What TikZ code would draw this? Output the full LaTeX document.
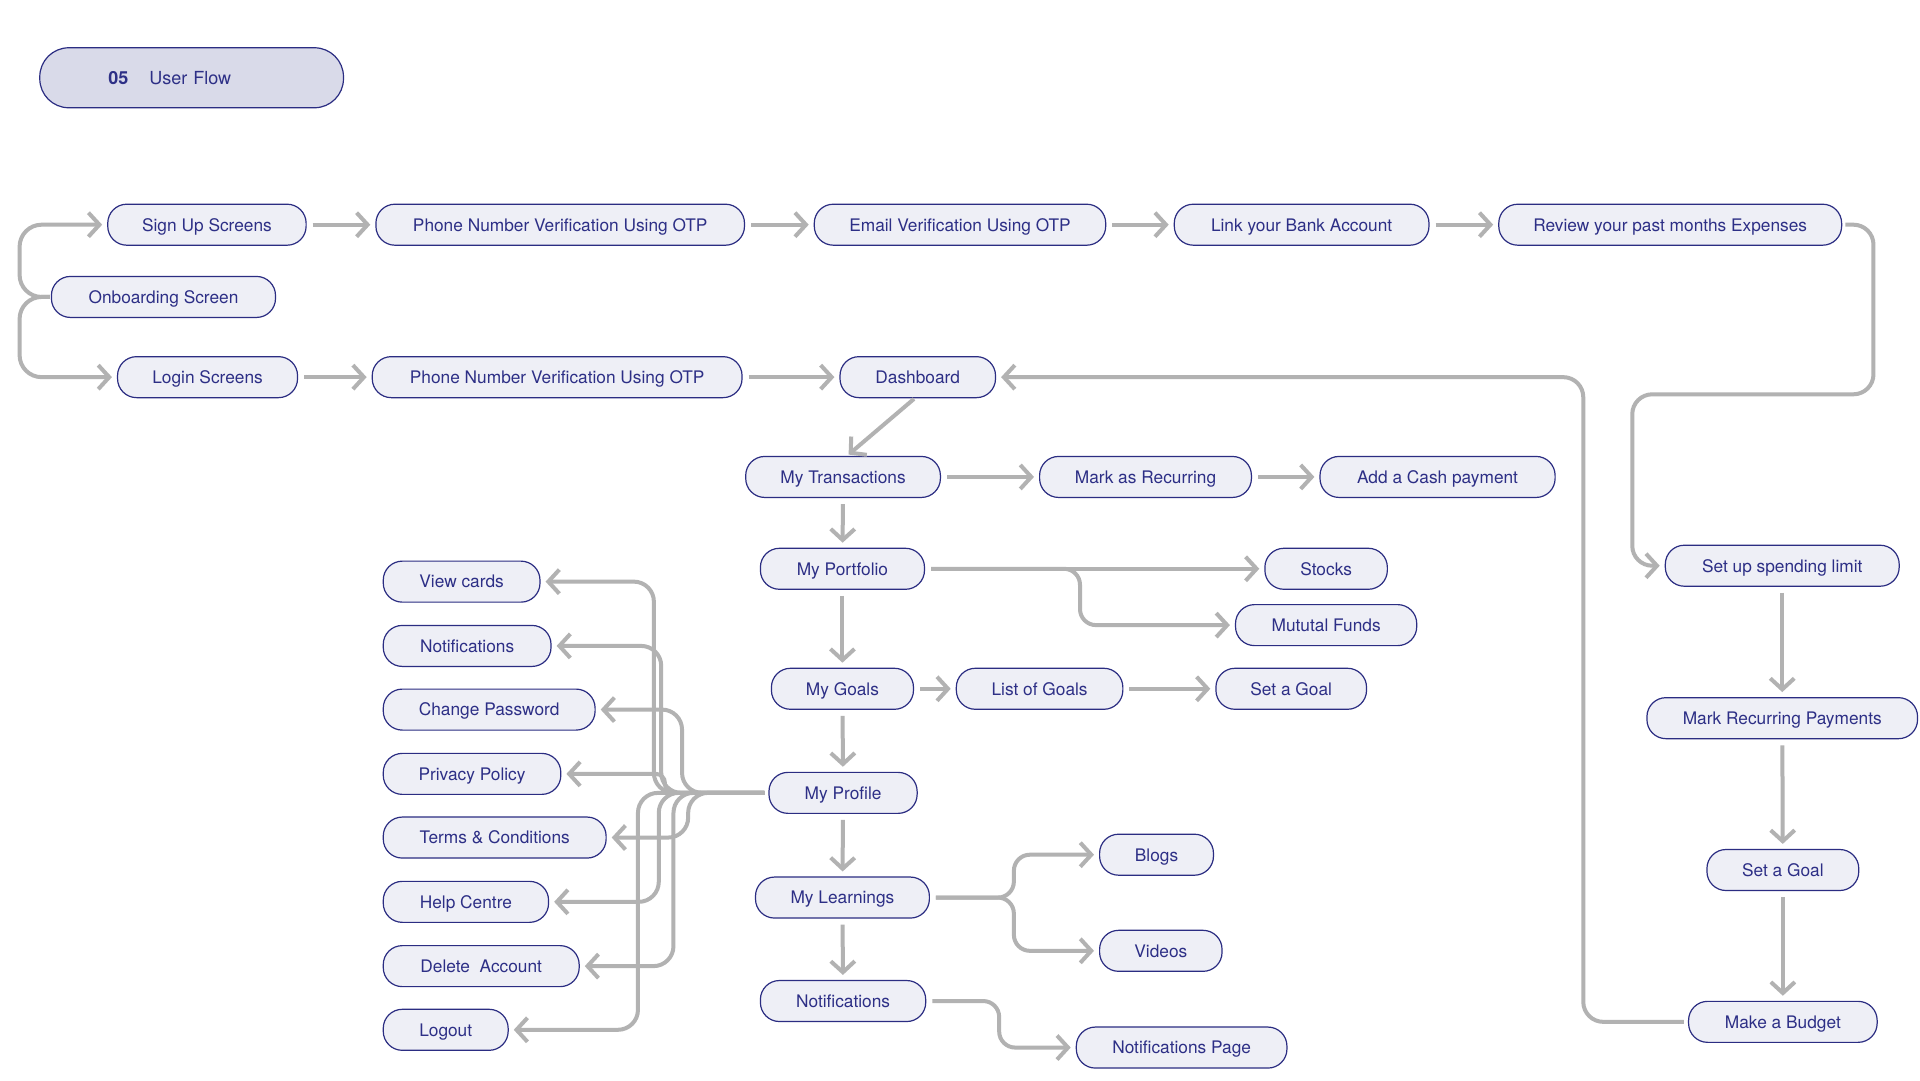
\documentclass[tikz,border=0pt]{standalone}
\usepackage{fontspec}
\setmainfont{TeX Gyre Heros}
\usetikzlibrary{arrows.meta}
\definecolor{nodeblue}{HTML}{2B2D82}
\definecolor{textblue}{HTML}{2D2F86}
\definecolor{nodefill}{HTML}{EEEFF6}
\definecolor{titlefill}{HTML}{D9DAE9}
\definecolor{arrowgray}{HTML}{B2B2B2}
\newcommand\nodefont{\fontsize{17.3}{20}\selectfont}
\begin{document}
\begin{tikzpicture}[x=1.2245pt, y=-1.2245pt,
 box/.style={draw=nodeblue, line width=1.2pt, fill=nodefill, rounded corners=19pt, minimum height=41pt, inner sep=0pt, text height=12.6pt, text depth=0pt, text=textblue, font=\nodefont},
 wd/.style={minimum width=#1*1.2245pt},
 arr/.style={draw=arrowgray, line width=4pt, -{Straight Barb[length=11pt,width=24pt]}, shorten <=6pt, shorten >=5pt},
 flow/.style={arr, rounded corners=20pt},
]
\fill[white] (0,0) rectangle (1568,882);
\useasboundingbox (0,0) rectangle (1568,882);

% title
\node[draw=nodeblue, line width=1.2pt, fill=titlefill, rounded corners=29pt, minimum height=60pt, anchor=west, inner xsep=68.6pt, text width=166.5pt, text height=13pt, text depth=0pt, align=left, text=textblue, font=\fontsize{18}{22}\selectfont] (title) at (32,63.5) {\textbf{05}\hspace{21pt}User Flow};

% top rows
\node[box, wd=162] (sign) at (169,183.5) {Sign Up Screens};
\node[box, wd=301] (ph1) at (457.5,183.5) {Phone Number Verification Using OTP};
\node[box, wd=238] (email) at (784,183.5) {Email Verification Using OTP};
\node[box, wd=208] (link) at (1063,183.5) {Link your Bank Account};
\node[box, wd=280] (review) at (1364,183.5) {Review your past months Expenses};
\node[box, wd=183] (onb) at (133.5,242.5) {Onboarding Screen};
\node[box, wd=147] (login) at (169.5,308) {Login Screens};
\node[box, wd=302] (ph2) at (455,308) {Phone Number Verification Using OTP};
\node[box, wd=127] (dash) at (749.5,308) {Dashboard};

% central column
\node[box, wd=159] (trans) at (688.5,389.5) {My Transactions};
\node[box, wd=173] (markrec) at (935.5,389.5) {Mark as Recurring};
\node[box, wd=192] (cash) at (1174,389.5) {Add a Cash payment};
\node[box, wd=134] (port) at (688,464.5) {My Portfolio};
\node[box, wd=100] (stocks) at (1083,464.5) {Stocks};
\node[box, wd=148] (mf) at (1083,510.5) {Mututal Funds};
\node[box, wd=116] (goals) at (688,562.5) {My Goals};
\node[box, wd=136] (list) at (849,562.5) {List of Goals};
\node[box, wd=123] (setgoal) at (1054.5,562.5) {Set a Goal};
\node[box, wd=121] (profile) at (688.5,647.5) {My Profile};
\node[box, wd=142] (learn) at (688,733) {My Learnings};
\node[box, wd=93] (blogs) at (944.5,698) {Blogs};
\node[box, wd=100] (videos) at (948,776.5) {Videos};
\node[box, wd=135] (notif) at (688.5,817.5) {Notifications};
\node[box, wd=172] (notifpage) at (965,855.5) {Notifications Page};

% left column
\node[box, wd=128] (viewcards) at (377,475) {View cards};
\node[box, wd=137] (notif2) at (381.5,527.5) {Notifications};
\node[box, wd=173] (chpw) at (399.5,579.5) {Change Password};
\node[box, wd=145] (privacy) at (385.5,632) {Privacy Policy};
\node[box, wd=182] (terms) at (404,684) {Terms \& Conditions};
\node[box, wd=135] (help) at (380.5,736.5) {Help Centre};
\node[box, wd=160] (delete) at (393,789) {Delete\ \ Account};
\node[box, wd=102] (logout) at (364,841) {Logout};

% right column
\node[box, wd=191] (spend) at (1455.5,462) {Set up spending limit};
\node[box, wd=221] (mrp) at (1455.5,586.5) {Mark Recurring Payments};
\node[box, wd=124] (setgoal2) at (1456,710.5) {Set a Goal};
\node[box, wd=154] (budget) at (1456,834.5) {Make a Budget};

% onboarding brace
\draw[flow, rounded corners=22pt, shorten <=1pt] (onb.west) -- (16,242.5) -- (16,183.5) -- (sign.west);
\draw[flow, rounded corners=22pt, shorten <=1pt] (onb.west) -- (16,242.5) -- (16,308) -- (login.west);

% horizontal arrows
\draw[arr] (sign) -- (ph1);
\draw[arr] (ph1) -- (email);
\draw[arr] (email) -- (link);
\draw[arr] (link) -- (review);
\draw[arr] (login) -- (ph2);
\draw[arr] (ph2) -- (dash);
\draw[arr] (trans) -- (markrec);
\draw[arr] (markrec) -- (cash);
\draw[arr] (goals) -- (list);
\draw[arr] (list) -- (setgoal);
\draw[arr] (port.east) -- (stocks.west);
\draw[arr, rounded corners=16pt] (port.east) -- (882,464.5) -- (882,510.5) -- (mf.west);

% dashboard to transactions
\draw[arr, shorten <=1pt, shorten >=2pt] ([xshift=-3pt]dash.south) -- ([xshift=4pt]trans.north);

% vertical arrows central
\draw[arr] (trans) -- (port);
\draw[arr] (port) -- (goals);
\draw[arr] (goals) -- (profile);
\draw[arr] (profile) -- (learn);
\draw[arr] (learn) -- (notif);

% learnings branch
\draw[arr, rounded corners=16pt] (learn.east) -- (828,733) -- (828,698) -- (blogs.west);
\draw[arr, rounded corners=16pt] (learn.east) -- (828,733) -- (828,776.5) -- (videos.west);
\draw[arr, rounded corners=16pt] (notif.east) -- (816,817.5) -- (816,855.5) -- (notifpage.west);

% right loop
\draw[flow, shorten <=3pt] (review.east) -- (1530,183.5) -- (1530,322) -- (1333,322) -- (1333,462) -- (spend.west);
\draw[arr] (spend) -- (mrp);
\draw[arr] (mrp) -- (setgoal2);
\draw[arr] (setgoal2) -- (budget);
\draw[flow, shorten <=4pt] (budget.west) -- (1293,834.5) -- (1293,308) -- (dash.east);

% profile to left column
\draw[flow, shorten <=4pt] (profile.west) -- (534,647.5) -- (534,475) -- (viewcards.east);
\draw[flow, shorten <=4pt] (profile.west) -- (540,647.5) -- (540,527.5) -- (notif2.east);
\draw[flow, shorten <=4pt] (profile.west) -- (557,647.5) -- (557,579.5) -- (chpw.east);
\draw[arr, rounded corners=9pt, shorten <=4pt] (profile.west) -- (543,647.5) -- (543,632) -- (privacy.east);
\draw[flow, shorten <=4pt] (profile.west) -- (562,647.5) -- (562,684) -- (terms.east);
\draw[flow, shorten <=4pt] (profile.west) -- (538,647.5) -- (538,736.5) -- (help.east);
\draw[flow, shorten <=4pt] (profile.west) -- (550,647.5) -- (550,789) -- (delete.east);
\draw[flow, shorten <=4pt] (profile.west) -- (521,647.5) -- (521,841) -- (logout.east);
\end{tikzpicture}
\end{document}
